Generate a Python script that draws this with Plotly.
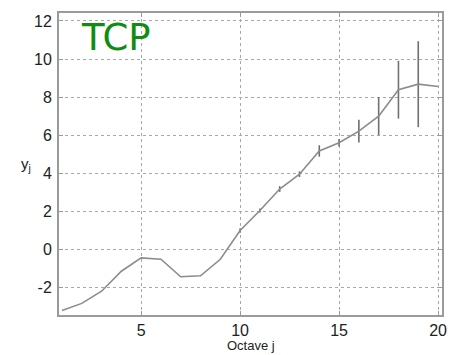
import plotly.graph_objects as go

# Octave index and the estimated scaling curve y_j with confidence half-widths
octave = [1, 2, 3, 4, 5, 6, 7, 8, 9, 10, 11, 12, 13, 14, 15, 16, 17, 18, 19, 20]
y_j = [-3.22, -2.84, -2.2, -1.15, -0.45, -0.52, -1.44, -1.39, -0.52, 0.99,
       2.04, 3.17, 3.95, 5.17, 5.6, 6.21, 7.0, 8.39, 8.68, 8.56]
half_width = [0, 0, 0, 0, 0, 0, 0, 0, 0, 0.12,
              0.1, 0.15, 0.15, 0.3, 0.2, 0.6, 1.0, 1.52, 2.26, 0]

x_ticks = [5, 10, 15, 20]
x_labels = ["5", "10", "15", "20"]
y_ticks = [-2, 0, 2, 4, 6, 8, 10, 12]
y_labels = ["-2", "0", "2", "4", "6", "8", "10", "12"]

fig = go.Figure()
fig.add_trace(go.Scatter(
    x=octave, y=y_j, mode="lines",
    line=dict(color="#8c8c8c", width=1.6),
    error_y=dict(type="data", array=half_width, visible=True,
                 color="#707070", thickness=1.6, width=0),
    showlegend=False,
))

axis_common = dict(
    showline=True, mirror="allticks", linecolor="#9a9a9a", linewidth=2,
    ticks="inside", ticklen=4, tickcolor="#9a9a9a",
    showgrid=True, gridcolor="#a8a8a8", gridwidth=1, griddash="3px,3px",
    zeroline=False,
    tickfont=dict(family="Liberation Sans", size=16, color="#222222"),
)

fig.update_xaxes(range=[0.85, 20.2], tickvals=x_ticks, ticktext=x_labels,
                 **axis_common)
fig.update_yaxes(range=[-3.45, 12.42], tickvals=y_ticks, ticktext=y_labels,
                 ticklabelstandoff=2, **axis_common)

fig.add_annotation(text="TCP", xref="paper", yref="paper", x=0.053, y=0.92,
                   xanchor="left", yanchor="middle", showarrow=False,
                   font=dict(family="DejaVu Sans", size=37, color="#108c10"))
fig.add_annotation(text="Octave j", xref="paper", yref="paper", x=0.5, y=-0.131,
                   xanchor="center", yanchor="bottom", showarrow=False,
                   font=dict(family="Liberation Sans", size=13, color="#222222"))
fig.add_annotation(text="y<sub>j</sub>", xref="paper", yref="paper", x=-0.068, y=0.5,
                   xanchor="right", yanchor="middle", showarrow=False,
                   font=dict(family="Liberation Sans", size=15, color="#222222"))

fig.update_layout(
    width=458, height=355,
    margin=dict(l=59, r=15, t=11, b=40),
    paper_bgcolor="white", plot_bgcolor="white",
)

fig.write_html("out.html")
